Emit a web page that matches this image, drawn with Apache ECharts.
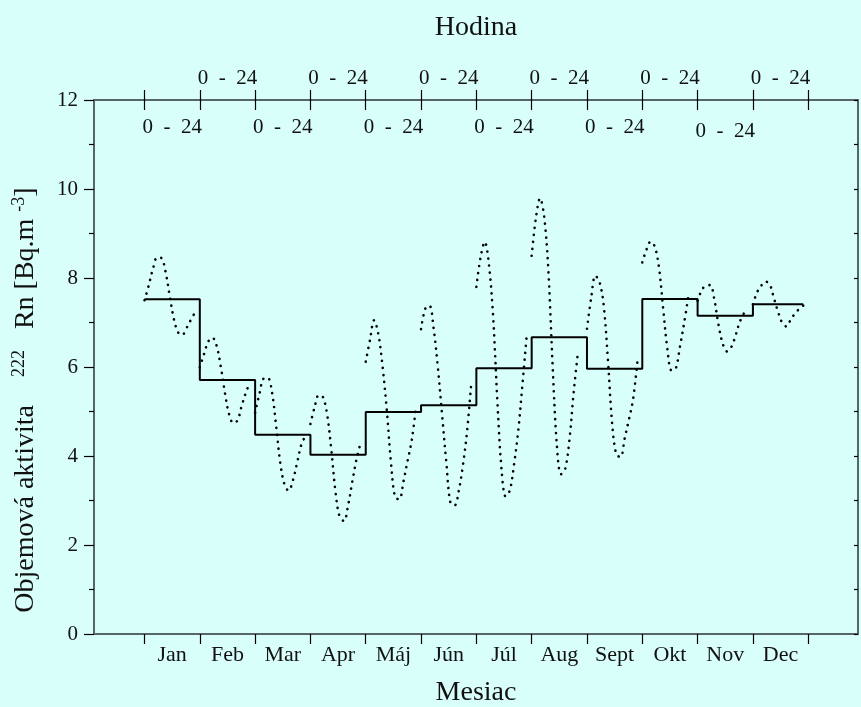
<!DOCTYPE html>
<html><head><meta charset="utf-8">
<script src="https://cdn.jsdelivr.net/npm/echarts@6/dist/echarts.min.js"></script>
<style>html,body{margin:0;padding:0;background:#d9fffb}#c{width:861px;height:707px}</style>
</head><body><div id="c"></div>
<script>
// ---- data ----
const months = ['Jan','Feb','Mar','Apr','Máj','Jún','Júl','Aug','Sept','Okt','Nov','Dec'];
const monthlyMean = [7.52,5.71,4.48,4.03,4.99,5.14,5.97,6.67,5.96,7.53,7.15,7.41];
const hours = [0,2,4,6,8,10,12,14,16,18,20,22,24];
const hourRangeLabel = '0  -  24';
const yTickValues = [0,2,4,6,8,10,12];
const janHourly = [7.50,7.83,8.20,8.46,8.45,8.15,7.60,7.08,6.78,6.72,6.87,7.05,7.22];
const febHourly = [5.99,6.29,6.57,6.66,6.48,6.01,5.41,4.93,4.74,4.80,5.13,5.43,5.66];
const marHourly = [4.97,5.39,5.74,5.76,5.45,4.68,3.84,3.36,3.22,3.45,3.84,4.25,4.45];
const aprHourly = [4.72,5.10,5.37,5.32,4.92,4.12,3.17,2.62,2.54,2.90,3.43,3.93,4.31];
const majHourly = [6.12,6.60,7.05,6.74,6.02,5.06,3.87,3.07,3.03,3.43,3.90,4.37,5.11];
const junHourly = [6.85,7.31,7.38,6.86,6.00,4.94,3.88,2.95,2.89,3.22,3.80,4.58,5.67];
const julHourly = [7.80,8.46,8.81,8.30,7.13,5.25,3.70,3.09,3.23,3.82,4.58,5.62,6.70];
const augHourly = [8.50,9.34,9.79,9.36,8.13,6.03,4.25,3.59,3.71,4.36,5.42,6.30];
const sepHourly = [6.86,7.55,8.05,7.91,7.37,6.15,4.73,4.03,3.98,4.40,4.82,5.28,6.10];
const oktHourly = [8.35,8.64,8.82,8.70,8.22,7.29,6.39,5.92,5.97,6.47,7.00,7.60];
const novHourly = [7.49,7.73,7.83,7.84,7.51,6.94,6.52,6.35,6.44,6.69,7.00,7.20];
const decHourly = [7.41,7.68,7.83,7.92,7.86,7.55,7.24,6.99,6.91,7.06,7.20,7.30,7.38];
const hourlyByMonth = [janHourly,febHourly,marHourly,aprHourly,majHourly,junHourly,julHourly,augHourly,sepHourly,oktHourly,novHourly,decHourly];

// ---- layout helpers ----
const FONT = 'Liberation Serif';
const HOUR_TO_MONTH = 0.91 / 24;   // one day profile drawn across ~0.91 of a month slot
const XMIN = -0.913, XMAX = 12.9;
const AXIS_COLOR = '#556666';
const monthEdges = months.map((m, i) => i).concat([months.length]);
const monthCenters = months.map((m, i) => i + 0.5);

const series = [];
hourlyByMonth.forEach((vals, mi) => {
  series.push({
    type: 'line', xAxisIndex: 0, yAxisIndex: 0, silent: true,
    symbol: 'none', smooth: 0.35, animation: false,
    data: vals.map((v, k) => [mi + hours[k] * HOUR_TO_MONTH, v]),
    lineStyle: { color: '#000', width: 2.6, type: [0.1, 6.9], cap: 'round' }
  });
});
const stepData = monthlyMean.map((v, i) => [i, v]);
stepData.push([months.length - 1 + 24 * HOUR_TO_MONTH, monthlyMean[monthlyMean.length - 1]]);
series.push({
  type: 'line', step: 'end', xAxisIndex: 0, yAxisIndex: 0, silent: true,
  symbol: 'none', animation: false, data: stepData,
  lineStyle: { color: '#000', width: 2 }
});

const baseX = { type: 'value', min: XMIN, max: XMAX, splitLine: { show: false } };
const labelFont = { fontFamily: FONT, color: '#111' };
const tickStyle = { color: '#000', width: 1.2 };

const option = {
  backgroundColor: '#d9fffb',
  animation: false,
  grid: { left: 94, right: 3, top: 100, bottom: 73, containLabel: false },
  xAxis: [
    Object.assign({}, baseX, {
      position: 'bottom',
      axisLine: { show: true, onZero: false, lineStyle: { color: AXIS_COLOR, width: 2 } },
      axisTick: { show: true, customValues: monthEdges, length: 10, lineStyle: tickStyle },
      axisLabel: Object.assign({ customValues: monthCenters, fontSize: 22, margin: 10,
        formatter: v => months[Math.floor(v)] }, labelFont)
    }),
    Object.assign({}, baseX, {
      position: 'top',
      axisLine: { show: true, onZero: false, lineStyle: { color: AXIS_COLOR, width: 2 } },
      axisTick: { show: true, customValues: monthEdges, length: 10, lineStyle: tickStyle },
      axisLabel: Object.assign({ customValues: monthCenters.filter((c, i) => i % 2 === 1), fontSize: 21, margin: 11,
        formatter: () => hourRangeLabel }, labelFont)
    }),
    Object.assign({}, baseX, {
      position: 'top',
      axisLine: { show: false, onZero: false },
      axisTick: { show: true, inside: true, customValues: monthEdges, length: 10, lineStyle: tickStyle },
      axisLabel: Object.assign({ inside: true, customValues: monthCenters.filter((c, i) => i % 2 === 0 && i !== 10), fontSize: 21, margin: 17,
        formatter: () => hourRangeLabel }, labelFont)
    }),
    Object.assign({}, baseX, {
      position: 'top',
      axisLine: { show: false, onZero: false },
      axisTick: { show: false },
      axisLabel: Object.assign({ inside: true, customValues: [monthCenters[10]], fontSize: 21, margin: 21,
        formatter: () => hourRangeLabel }, labelFont)
    })
  ],
  yAxis: [
    {
      type: 'value', position: 'left', min: 0, max: 12, interval: 2,
      splitLine: { show: false },
      axisLine: { show: true, onZero: false, lineStyle: { color: AXIS_COLOR, width: 2 } },
      axisTick: { show: true, length: 10, lineStyle: tickStyle },
      minorTick: { show: true, splitNumber: 2, length: 5, lineStyle: tickStyle },
      axisLabel: Object.assign({ fontSize: 21, margin: 16,
        formatter: v => (yTickValues.indexOf(v) >= 0 ? String(v) : '') }, labelFont)
    },
    {
      type: 'value', position: 'right', min: 0, max: 12, interval: 1,
      splitLine: { show: false },
      axisLine: { show: true, onZero: false, lineStyle: { color: AXIS_COLOR, width: 2 } },
      axisTick: { show: true, inside: true, length: 4, lineStyle: tickStyle },
      axisLabel: { show: false }
    }
  ],
  graphic: [
    { type: 'text', x: 476, y: 28, silent: true,
      style: { text: 'Hodina', fontFamily: FONT, fontSize: 28, fill: '#111', align: 'center', verticalAlign: 'middle' } },
    { type: 'text', x: 476, y: 693, silent: true,
      style: { text: 'Mesiac', fontFamily: FONT, fontSize: 28, fill: '#111', align: 'center', verticalAlign: 'middle' } },
    { type: 'text', x: 26, y: 400, rotation: Math.PI / 2, silent: true,
      style: {
        text: '{a|Objemová aktivita    }{s|222}{a|   Rn [Bq.m }{s|-3}{a|]}',
        align: 'center', verticalAlign: 'middle', fill: '#111',
        rich: {
          a: { fontFamily: FONT, fontSize: 28, lineHeight: 32, fill: '#111' },
          s: { fontFamily: FONT, fontSize: 18, lineHeight: 18, verticalAlign: 'top', fill: '#111' }
        }
      } }
  ],
  series: series
};
const chart = echarts.init(document.getElementById('c'), null, { renderer: 'canvas' });
chart.setOption(option);
</script>
</body></html>
